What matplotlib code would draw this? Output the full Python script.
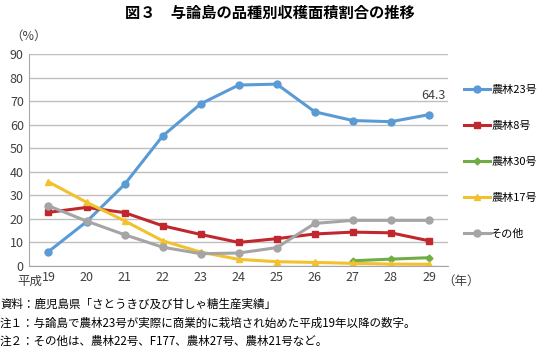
import matplotlib.pyplot as plt

plt.rcParams['font.family'] = ['Noto Sans CJK JP', 'DejaVu Sans']

years = ['19', '20', '21', '22', '23', '24', '25', '26', '27', '28', '29']
n23 = [6.0, 18.7, 34.6, 55.2, 68.9, 76.9, 77.3, 65.5, 61.8, 61.3, 64.3]
n8 = [22.7, 24.8, 22.6, 17.0, 13.3, 9.9, 11.5, 13.5, 14.3, 14.0, 10.6]
n30 = [None] * 8 + [2.1, 2.8, 3.4]
n17 = [35.7, 27.0, 19.1, 10.6, 5.8, 2.7, 1.7, 1.4, 1.0, 0.7, 0.6]
other = [25.5, 19.0, 13.2, 7.9, 5.1, 5.4, 7.7, 18.0, 19.3, 19.3, 19.3]

fig = plt.figure(figsize=(5.45, 3.48), dpi=100)
ax = fig.add_axes([0.054, 0.2365, 0.768, 0.6075])

x = list(range(len(years)))
x30 = [i for i, v in zip(x, n30) if v is not None]
v30 = [v for v in n30 if v is not None]

ax.plot(x, n23, color='#5B9BD5', lw=2.2, marker='o', ms=5, label='農林23号')
ax.plot(x, n8, color='#C0282D', lw=2.2, marker='s', ms=5, label='農林8号')
ax.plot(x30, v30, color='#70AD47', lw=2.2, marker='D', ms=3.5, label='農林30号')
ax.plot(x, n17, color='#F2C12E', lw=2.2, marker='^', ms=5, label='農林17号')
ax.plot(x, other, color='#A5A5A5', lw=2.2, marker='o', ms=5, label='その他')

ax.annotate('64.3', (x[-1], n23[-1]), xytext=(3, 9), textcoords='offset points',
            ha='center', va='bottom', fontsize=9, color='#404040')

ax.set_xlim(-0.5, len(years) - 0.5)
ax.set_ylim(0, 90)
ax.set_yticks(range(0, 91, 10))
ax.set_xticks(x)
ax.set_xticklabels(years)
ax.yaxis.grid(True, color='#BFBFBF', lw=1)
ax.set_axisbelow(True)
for s in ['top', 'right']:
    ax.spines[s].set_visible(False)
ax.spines['left'].set_color('#A6A6A6')
ax.spines['bottom'].set_color('#A6A6A6')
ax.tick_params(length=0, labelsize=9, colors='#404040', pad=4)

fig.text(0.078, 0.211, '平成', fontsize=9, color='#404040', va='top', ha='right')
fig.text(0.812, 0.211, '（年）', fontsize=9, color='#404040', va='top')
fig.text(0.018, 0.895, '（%）', fontsize=9, color='#404040', va='center')

fig.text(0.495, 0.963, '図３　与論島の品種別収穫面積割合の推移', ha='center', va='center',
         fontsize=11, fontweight='bold')

ax.legend(loc='upper left', bbox_to_anchor=(1.0, 0.93), frameon=False, fontsize=8,
          handlelength=2.4, labelspacing=2.35, handletextpad=0.1, borderaxespad=1.0)

notes = ['資料：鹿児島県「さとうきび及び甘しゃ糖生産実績」',
         '注１：与論島で農林23号が実際に商業的に栽培され始めた平成19年以降の数字。',
         '注２：その他は、農林22号、F177、農林27号、農林21号など。']
for i, t in enumerate(notes):
    fig.text(0.0, 0.126 - i * 0.054, t, fontsize=8.3, va='center')

fig.savefig('out.png', dpi=100)
